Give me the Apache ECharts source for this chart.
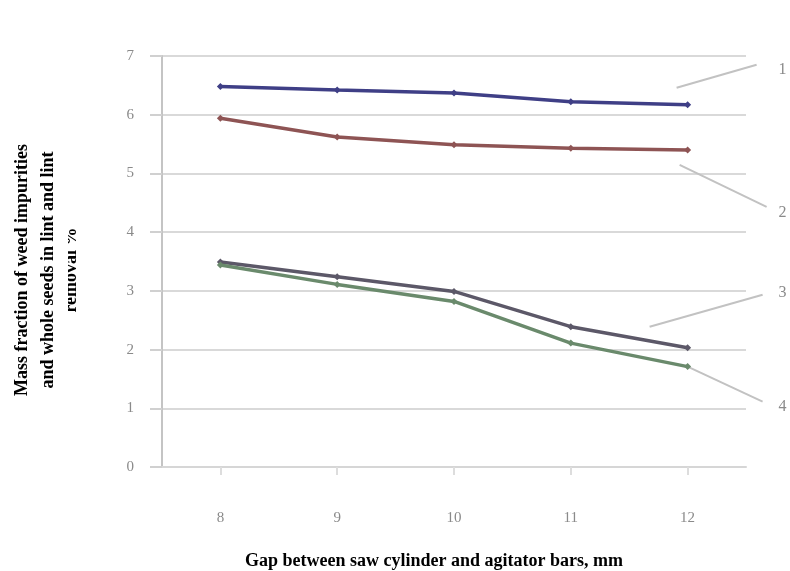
<!DOCTYPE html>
<html>
<head>
<meta charset="utf-8">
<script src="https://cdn.jsdelivr.net/npm/echarts@6/dist/echarts.min.js"></script>
<style>
  html, body { margin: 0; padding: 0; background: #ffffff; }
  #chart { width: 790px; height: 571px; }
</style>
</head>
<body>
<div id="chart"></div>
<script>
// Gap between saw cylinder and agitator bars, mm
const gaps = ['8', '9', '10', '11', '12'];
const yTicks = [0, 1, 2, 3, 4, 5, 6, 7];

// Mass fraction (%) for the four curves
const curve1 = [6.48, 6.42, 6.37, 6.22, 6.17];
const curve2 = [5.94, 5.62, 5.49, 5.43, 5.40];
const curve3 = [3.49, 3.24, 2.99, 2.39, 2.03];
const curve4 = [3.44, 3.11, 2.82, 2.11, 1.71];

const curveNames = ['1', '2', '3', '4'];
const curveColors = ['#3f3f86', '#8e5454', '#5c5868', '#6a8a6c'];

const chart = echarts.init(document.getElementById('chart'), null, { renderer: 'canvas' });
const serif = '"Liberation Serif", "DejaVu Serif", serif';

function lineSeries(name, data, color) {
  return {
    name: name,
    type: 'line',
    data: data,
    symbol: 'diamond',
    symbolSize: 7,
    lineStyle: { color: color, width: 3.5 },
    itemStyle: { color: color },
    emphasis: { disabled: true },
    z: 3
  };
}

chart.setOption({
  animation: false,
  backgroundColor: '#ffffff',
  grid: { left: 162, right: 44, top: 56, bottom: 104 },
  xAxis: {
    type: 'category',
    data: gaps,
    boundaryGap: true,
    axisLine: { show: true, lineStyle: { color: '#d6d6d6', width: 2 } },
    axisTick: { show: true, alignWithLabel: true, length: 8, lineStyle: { color: '#dddddd', width: 2 } },
    axisLabel: { margin: 44, color: '#8a8a8a', fontSize: 15, fontFamily: serif },
    splitLine: { show: false }
  },
  yAxis: {
    type: 'value',
    min: yTicks[0],
    max: yTicks[yTicks.length - 1],
    interval: 1,
    axisLine: { show: true, lineStyle: { color: '#c4c4c4', width: 2 } },
    axisTick: { show: true, length: 12, lineStyle: { color: '#d0d0d0', width: 2 } },
    axisLabel: { margin: 28, color: '#8a8a8a', fontSize: 15, fontFamily: serif },
    splitLine: { show: true, lineStyle: { color: '#d9d9d9', width: 2 } }
  },
  series: [
    lineSeries(curveNames[0], curve1, curveColors[0]),
    lineSeries(curveNames[1], curve2, curveColors[1]),
    lineSeries(curveNames[2], curve3, curveColors[2]),
    lineSeries(curveNames[3], curve4, curveColors[3])
  ]
});

// Leader lines and curve numbers, anchored to each curve's last point
const curves = [curve1, curve2, curve3, curve4];
const leaderOffsets = [
  { start: [-11, -17], end: [69, -40], label: [95, -35] },
  { start: [-8, 15], end: [79, 57], label: [95, 63] },
  { start: [-38, -21], end: [75, -53], label: [95, -55] },
  { start: [0, 0], end: [75, 35], label: [95, 40] }
];

const graphics = [];
curves.forEach(function (vals, i) {
  const last = vals.length - 1;
  const p = chart.convertToPixel({ seriesIndex: i }, [last, vals[last]]);
  const o = leaderOffsets[i];
  graphics.push({
    type: 'line',
    shape: { x1: p[0] + o.start[0], y1: p[1] + o.start[1], x2: p[0] + o.end[0], y2: p[1] + o.end[1] },
    style: { stroke: '#c2c2c2', lineWidth: 2 },
    z: 2
  });
  graphics.push({
    type: 'text',
    x: p[0] + o.label[0],
    y: p[1] + o.label[1],
    style: {
      text: curveNames[i], fill: '#8a8a8a', font: '16px ' + serif,
      textAlign: 'center', textVerticalAlign: 'middle'
    },
    z: 5
  });
});

// Axis titles
graphics.push({
  type: 'text', x: 434, y: 561,
  style: {
    text: 'Gap between saw cylinder and agitator bars, mm',
    fill: '#000000', font: 'bold 18px ' + serif,
    textAlign: 'center', textVerticalAlign: 'middle'
  }
});
const yTitleLines = [
  { text: 'Mass fraction of weed impurities', x: 22 },
  { text: 'and whole seeds in lint and lint', x: 48 },
  { text: 'removal %', x: 71 }
];
yTitleLines.forEach(function (ln) {
  graphics.push({
    type: 'text', x: ln.x, y: 270, rotation: Math.PI / 2,
    style: {
      text: ln.text, fill: '#000000', font: 'bold 18px ' + serif,
      textAlign: 'center', textVerticalAlign: 'middle'
    },
    z: 4
  });
});
// the third title line is cut off along its top edge
graphics.push({
  type: 'rect', shape: { x: 58, y: 200, width: 10, height: 140 },
  style: { fill: '#ffffff' }, z: 6
});

chart.setOption({ graphic: graphics });
</script>
</body>
</html>
